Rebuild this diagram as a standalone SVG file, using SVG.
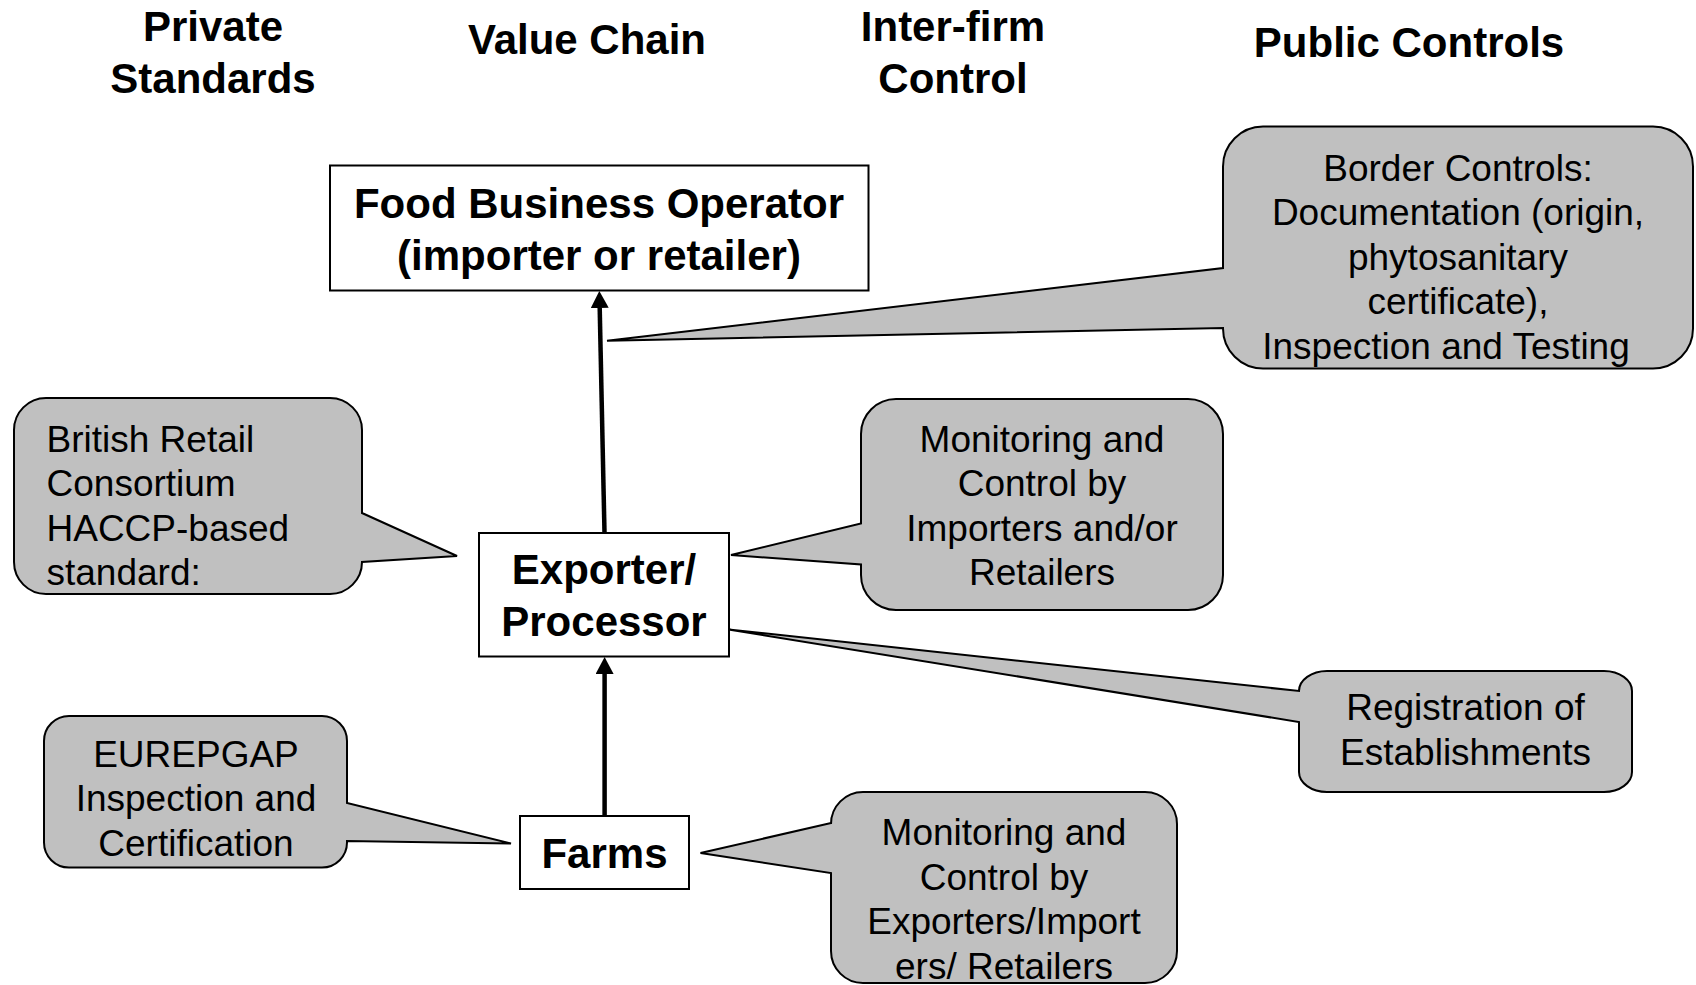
<svg xmlns="http://www.w3.org/2000/svg" width="1696" height="985" viewBox="0 0 1696 985">
<style>
text{font-family:"Liberation Sans",Arial,sans-serif;fill:#000}
.h{font-size:42px;font-weight:bold;text-anchor:middle}
.n{font-size:42px;font-weight:bold;text-anchor:middle}
.c{font-size:37px;text-anchor:middle}
.cl{font-size:37px;text-anchor:start}
.box{fill:#fff;stroke:#000;stroke-width:2}
.call{fill:#c0c0c0;stroke:#000;stroke-width:2;stroke-linejoin:miter}
.conn{stroke:#000;stroke-width:4.5;fill:none}
</style>
<defs>
<marker id="ah" markerUnits="userSpaceOnUse" markerWidth="17" markerHeight="18" refX="0" refY="9" orient="auto">
<path d="M0,0 L17,9 L0,18 Z" fill="#000"/>
</marker>
</defs>
<rect width="1696" height="985" fill="#fff"/>
<g id="headers">
<text class="h" x="213" y="41">Private</text>
<text class="h" x="213" y="93">Standards</text>
<text class="h" x="587" y="54">Value Chain</text>
<text class="h" x="953" y="41">Inter-firm</text>
<text class="h" x="953" y="93">Control</text>
<text class="h" x="1409" y="57">Public Controls</text>
</g>
<g id="connectors">
<line class="conn" x1="604.6" y1="816" x2="604.6" y2="674" marker-end="url(#ah)"/>
<line class="conn" x1="604.5" y1="533" x2="599.7" y2="308" marker-end="url(#ah)"/>
</g>
<g id="node-fbo">
<rect class="box" x="330" y="165.5" width="538.5" height="125"/>
<text class="n" x="599" y="218">Food Business Operator</text>
<text class="n" x="599" y="269.5">(importer or retailer)</text>
</g>
<g id="node-exporter">
<rect class="box" x="479" y="533" width="250" height="123.5"/>
<text class="n" x="604" y="584">Exporter/</text>
<text class="n" x="604" y="636">Processor</text>
</g>
<g id="node-farms">
<rect class="box" x="520" y="816" width="169" height="73"/>
<text class="n" x="604.5" y="868">Farms</text>
</g>
<g id="callout-border">
<path class="call" d="M1263,126.5 H1653 A40,40 0 0 1 1693,166.5 V328.5 A40,40 0 0 1 1653,368.5 H1263 A40,40 0 0 1 1223,328.5 V328 L607,340.7 L1223,268 V166.5 A40,40 0 0 1 1263,126.5 Z"/>
<text class="c" x="1458" y="181">Border Controls:</text>
<text class="c" x="1458" y="225">Documentation (origin,</text>
<text class="c" x="1458" y="269.5">phytosanitary</text>
<text class="c" x="1458" y="314">certificate),</text>
<text class="c" x="1446" y="358.5">Inspection and Testing</text>
</g>
<g id="callout-brc">
<path class="call" d="M46,398 H330 A32,32 0 0 1 362,430 V513 L457,556 L362,562 A32,32 0 0 1 330,594 H46 A32,32 0 0 1 14,562 V430 A32,32 0 0 1 46,398 Z"/>
<text class="cl" x="46.5" y="451.7">British Retail</text>
<text class="cl" x="46.5" y="496">Consortium</text>
<text class="cl" x="46.5" y="540.5">HACCP-based</text>
<text class="cl" x="46.5" y="585">standard:</text>
</g>
<g id="callout-importers">
<path class="call" d="M896,399 H1188 A35,35 0 0 1 1223,434 V575 A35,35 0 0 1 1188,610 H896 A35,35 0 0 1 861,575 V564.5 L731,555 L861,523.5 V434 A35,35 0 0 1 896,399 Z"/>
<text class="c" x="1042" y="451.7">Monitoring and</text>
<text class="c" x="1042" y="496">Control by</text>
<text class="c" x="1042" y="540.5">Importers and/or</text>
<text class="c" x="1042" y="585">Retailers</text>
</g>
<g id="callout-registration">
<path class="call" d="M1327,671 H1604 A28,20 0 0 1 1632,691 V772 A28,20 0 0 1 1604,792 H1327 A28,20 0 0 1 1299,772 V722 L728.5,629.5 L1299,691 A28,20 0 0 1 1327,671 Z"/>
<text class="c" x="1465.5" y="720">Registration of</text>
<text class="c" x="1465.5" y="764.5">Establishments</text>
</g>
<g id="callout-eurepgap">
<path class="call" d="M69,716 H322 A25,25 0 0 1 347,741 V803 L511,843.5 L347,841 V842.5 A25,25 0 0 1 322,867.5 H69 A25,25 0 0 1 44,842.5 V741 A25,25 0 0 1 69,716 Z"/>
<text class="c" x="196" y="766.5">EUREPGAP</text>
<text class="c" x="196" y="811">Inspection and</text>
<text class="c" x="196" y="855.5">Certification</text>
</g>
<g id="callout-exporters">
<path class="call" d="M863,792 H1145 A32,32 0 0 1 1177,824 V951 A32,32 0 0 1 1145,983 H863 A32,32 0 0 1 831,951 V873 L700.5,853 L831,823 V824 A32,32 0 0 1 863,792 Z"/>
<text class="c" x="1004" y="845">Monitoring and</text>
<text class="c" x="1004" y="889.5">Control by</text>
<text class="c" x="1004" y="934">Exporters/Import</text>
<text class="c" x="1004" y="978.5">ers/ Retailers</text>
</g>
</svg>
